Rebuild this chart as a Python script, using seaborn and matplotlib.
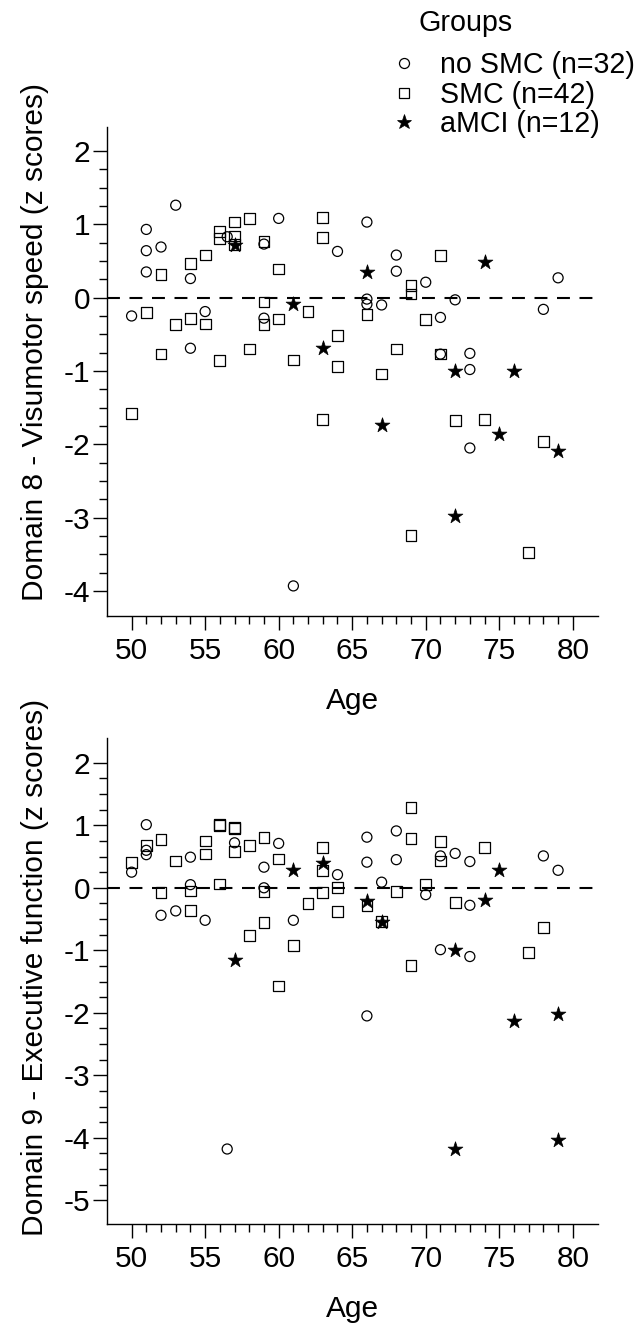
import numpy as np
import pandas as pd
import matplotlib
matplotlib.use("Agg")
import matplotlib.pyplot as plt
import seaborn as sns
from matplotlib.lines import Line2D
from matplotlib.ticker import FixedLocator

# ---------------- data ----------------
groups = ["no SMC (n=32)", "SMC (n=42)", "aMCI (n=12)"]

# Domain 8 - Visumotor speed
d8_nosmc_age = [53, 51, 51, 52, 51, 54, 56.5, 60, 59, 64, 66, 50, 55, 59, 54,
                68, 68, 70, 66, 66, 67, 72, 78, 79, 71, 73, 71, 73, 73, 61]
d8_nosmc_z = [1.26, 0.93, 0.64, 0.69, 0.35, 0.26, 0.83, 1.08, 0.73, 0.63, 1.03, -0.25, -0.19, -0.28, -0.69,
              0.58, 0.36, 0.21, -0.02, -0.09, -0.10, -0.03, -0.16, 0.27, -0.27, -0.76, -0.77, -0.98, -2.05, -3.93]
d8_smc_age = [57, 58, 56, 56, 57, 57, 59, 63, 63, 55, 54, 52, 60, 51, 59, 54, 53, 55, 59, 60, 62,
              64, 52, 58, 71, 69, 69, 66, 70, 68, 71, 50, 56, 61, 64, 63, 67, 72, 74, 78, 69, 77]
d8_smc_z = [1.03, 1.08, 0.90, 0.81, 0.84, 0.72, 0.77, 1.09, 0.82, 0.58, 0.47, 0.32, 0.39, -0.20, -0.06,
            -0.28, -0.37, -0.36, -0.37, -0.29, -0.19, -0.52, -0.77, -0.70, 0.57, 0.17, 0.05, -0.23, -0.30,
            -0.70, -0.77, -1.58, -0.86, -0.85, -0.94, -1.66, -1.04, -1.67, -1.66, -1.96, -3.24, -3.47]
d8_amci_age = [57, 61, 66, 63, 74, 72, 76, 67, 75, 79, 72]
d8_amci_z = [0.72, -0.09, 0.35, -0.69, 0.48, -1.00, -1.00, -1.73, -1.86, -2.09, -2.98]

# Domain 9 - Executive function
d9_nosmc_age = [51, 51, 51, 50, 54, 54, 57, 59, 59, 60, 64, 66, 66, 52, 53, 55, 61, 56.5, 66,
                68, 68, 67, 70, 71, 72, 73, 73, 78, 79, 71, 73]
d9_nosmc_z = [1.01, 0.60, 0.53, 0.25, 0.49, 0.05, 0.72, 0.33, 0.00, 0.71, 0.21, 0.81, 0.41, -0.44,
              -0.37, -0.52, -0.52, -4.18, -2.05, 0.91, 0.45, 0.09, -0.11, 0.51, 0.55, 0.42, -0.28,
              0.51, 0.28, -0.99, -1.10]
d9_smc_age = [50, 51, 52, 53, 55, 55, 56, 57, 57, 58, 59, 60, 56, 52, 54, 59, 54, 63, 63, 63, 64,
              64, 62, 59, 58, 61, 60, 66, 69, 69, 71, 71, 74, 68, 70, 67, 72, 78, 77, 69, 56, 57]
d9_smc_z = [0.40, 0.68, 0.77, 0.43, 0.75, 0.54, 1.00, 0.95, 0.58, 0.68, 0.81, 0.46, 0.06, -0.08,
            -0.05, -0.06, -0.36, 0.65, 0.28, -0.08, 0.01, -0.38, -0.25, -0.56, -0.76, -0.92, -1.57,
            -0.28, 1.29, 0.79, 0.74, 0.43, 0.64, -0.06, 0.05, -0.54, -0.24, -0.64, -1.04, -1.24,
            1.01, 0.96]
d9_amci_age = [61, 63, 57, 66, 67, 75, 74, 72, 76, 79, 72, 79]
d9_amci_z = [0.29, 0.39, -1.15, -0.21, -0.55, 0.28, -0.20, -0.99, -2.13, -2.02, -4.18, -4.04]


def frame(ages, zs):
    rows = []
    for g, a, z in zip(groups, ages, zs):
        rows.append(pd.DataFrame({"Age": a, "z": z, "Group": g}))
    return pd.concat(rows, ignore_index=True)


df8 = frame([d8_nosmc_age, d8_smc_age, d8_amci_age], [d8_nosmc_z, d8_smc_z, d8_amci_z])
df9 = frame([d9_nosmc_age, d9_smc_age, d9_amci_age], [d9_nosmc_z, d9_smc_z, d9_amci_z])

# ---------------- style ----------------
sns.set_theme(style="ticks")
plt.rcParams["font.family"] = ["Liberation Sans", "DejaVu Sans"]
for k in ["text.color", "axes.labelcolor", "xtick.color", "ytick.color", "axes.edgecolor"]:
    plt.rcParams[k] = "black"
FS = 21.5
LFS = 20.6

styles = {
    groups[0]: dict(marker="o", s=52, facecolor="none", edgecolor="black", linewidth=0.9),
    groups[1]: dict(marker="s", s=60, facecolor="none", edgecolor="black", linewidth=0.9),
    groups[2]: dict(marker="*", s=125, facecolor="black", edgecolor="black", linewidth=0.5),
}

fig = plt.figure(figsize=(6.38, 13.31), dpi=100)
ax1 = fig.add_axes([0.168, 0.5372, 0.769, 0.3676])
ax2 = fig.add_axes([0.168, 0.0804, 0.769, 0.3648])


def draw(ax, df, ylim, ymaj, ylabel, ylab_y):
    for g in groups:
        sub = df[df["Group"] == g]
        sns.scatterplot(data=sub, x="Age", y="z", ax=ax, legend=False, zorder=3, **styles[g])
    ax.axhline(0, color="black", lw=1.5, ls=(0, (6.2, 4.6)), zorder=2)
    ax.set_xlim(48.34, 81.7)
    ax.set_ylim(*ylim)
    ax.xaxis.set_major_locator(FixedLocator(list(range(50, 81, 5))))
    ax.xaxis.set_minor_locator(FixedLocator(list(range(50, 81))))
    ax.yaxis.set_major_locator(FixedLocator(ymaj))
    ax.yaxis.set_minor_locator(FixedLocator(list(np.arange(ymaj[0], ymaj[-1] + 0.01, 0.25))))
    ax.set_yticklabels([str(v) for v in ymaj])
    sns.despine(ax=ax)
    for sp in ["left", "bottom"]:
        ax.spines[sp].set_linewidth(1.0)
        ax.spines[sp].set_color("black")
    ax.tick_params(which="major", length=10, width=1.0, color="black", labelcolor="black",
                   labelsize=FS, pad=2)
    ax.tick_params(which="minor", length=5.8, width=1.0, color="black")
    ax.tick_params(axis="x", which="major", pad=5)
    ax.set_xlabel("Age", fontsize=FS, labelpad=16, color="black")
    ax.set_ylabel(ylabel, fontsize=FS, va="center", color="black")
    ax.yaxis.set_label_coords(-0.147, ylab_y)
    ax.set_facecolor("white")


draw(ax1, df8, (-4.34, 2.33), [-4, -3, -2, -1, 0, 1, 2],
     "Domain 8 - Visumotor speed (z scores)", 0.559)
draw(ax2, df9, (-5.38, 2.39), [-5, -4, -3, -2, -1, 0, 1, 2],
     "Domain 9 - Executive function (z scores)", 0.529)

# legend
handles = []
for g in groups:
    st = styles[g]
    ms = np.sqrt(st["s"])
    handles.append(Line2D([], [], ls="", marker=st["marker"], markersize=ms,
                          markerfacecolor=st["facecolor"], markeredgecolor="black",
                          markeredgewidth=st["linewidth"]))
fig.text(418 / 638, 1 - 23 / 1331, "Groups", fontsize=LFS, ha="left", va="center", color="black")
fig.legend(handles, groups, loc="upper left", bbox_to_anchor=(389 / 638, 1 - 51 / 1331),
           frameon=False, fontsize=LFS, handlelength=1.05, handletextpad=0.72,
           labelspacing=0.06, borderpad=0, borderaxespad=0, labelcolor="black")

fig.savefig("out.png", dpi=100, facecolor="white")
